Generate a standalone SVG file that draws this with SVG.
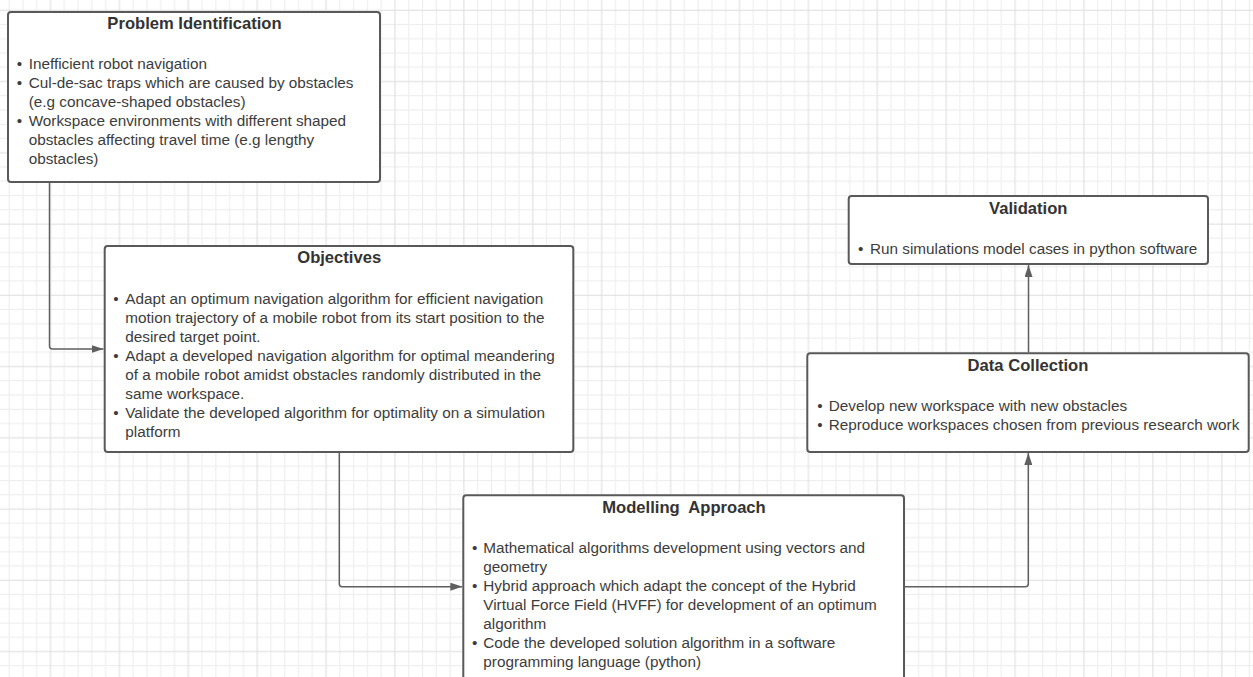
<svg xmlns="http://www.w3.org/2000/svg" width="1253" height="677" viewBox="0 0 1253 677">
  <defs>
    <pattern id="grid" patternUnits="userSpaceOnUse" x="43.61" y="3.125" width="68.9" height="71.25">
      <g stroke="#ececec" stroke-width="1">
        <line x1="20.67" y1="0" x2="20.67" y2="71.25"/>
        <line x1="34.45" y1="0" x2="34.45" y2="71.25"/>
        <line x1="48.23" y1="0" x2="48.23" y2="71.25"/>
        <line x1="62.01" y1="0" x2="62.01" y2="71.25"/>
        <line x1="0" y1="21.375" x2="68.9" y2="21.375"/>
        <line x1="0" y1="35.625" x2="68.9" y2="35.625"/>
        <line x1="0" y1="49.875" x2="68.9" y2="49.875"/>
        <line x1="0" y1="64.125" x2="68.9" y2="64.125"/>
      </g>
      <g stroke="#dcdcdc" stroke-width="1">
        <line x1="6.89" y1="0" x2="6.89" y2="71.25"/>
        <line x1="0" y1="7.125" x2="68.9" y2="7.125"/>
      </g>
    </pattern>
    <marker id="arrow" viewBox="0 0 12 8" refX="12" refY="4" markerWidth="12" markerHeight="8" markerUnits="userSpaceOnUse" orient="auto">
      <path d="M0,0 L12,4 L0,8 Z" fill="#5f5f5f"/>
    </marker>
    <style>
      .box { fill: #ffffff; stroke: #595959; stroke-width: 2; }
      .title { font-family: "Liberation Sans", Arial, sans-serif; font-size: 16.6px; font-weight: bold; fill: #333333; text-anchor: middle; white-space: pre; }
      .body { font-family: "Liberation Sans", Arial, sans-serif; font-size: 15.3px; fill: #3c3c3c; }
      .bul { font-family: "Liberation Sans", Arial, sans-serif; font-size: 15.3px; fill: #3c3c3c; text-anchor: middle; }
      .conn { fill: none; stroke: #5f5f5f; stroke-width: 1.5; marker-end: url(#arrow); }
    </style>
  </defs>

  <rect x="0" y="0" width="1253" height="677" fill="#ffffff"/>
  <rect x="0" y="0" width="1253" height="677" fill="url(#grid)"/>

  <g id="connectors">
    <path class="conn" d="M49.5,183 V346 Q49.5,349 52.5,349 H103.5"/>
    <path class="conn" d="M339.3,453 V583.7 Q339.3,586.7 342.3,586.7 H462.3"/>
    <path class="conn" d="M905,586.7 H1025.3 Q1028.3,586.7 1028.3,583.7 V453"/>
    <path class="conn" d="M1028.5,352.5 V265"/>
  </g>

  <g id="problem-identification">
    <rect class="box" x="8" y="12" width="372" height="170" rx="3"/>
    <text class="title" x="194.5" y="29">Problem Identification</text>
    <text class="bul" x="19.5" y="69.4">•</text>
    <text class="body" x="28.7" y="69.4">Inefficient robot navigation</text>
    <text class="bul" x="19.5" y="88.4">•</text>
    <text class="body" x="28.7" y="88.4">Cul-de-sac traps which are caused by obstacles</text>
    <text class="body" x="28.7" y="107.4">(e.g concave-shaped obstacles)</text>
    <text class="bul" x="19.5" y="126.4">•</text>
    <text class="body" x="28.7" y="126.4">Workspace environments with different shaped</text>
    <text class="body" x="28.7" y="145.4">obstacles affecting travel time (e.g lengthy</text>
    <text class="body" x="28.7" y="164.4">obstacles)</text>
  </g>

  <g id="objectives">
    <rect class="box" x="104.7" y="246" width="468.6" height="206" rx="3"/>
    <text class="title" x="339.2" y="263.3">Objectives</text>
    <text class="bul" x="116" y="304.4">•</text>
    <text class="body" x="125.3" y="304.4">Adapt an optimum navigation algorithm for efficient navigation</text>
    <text class="body" x="125.3" y="323.4">motion trajectory of a mobile robot from its start position to the</text>
    <text class="body" x="125.3" y="342.4">desired target point.</text>
    <text class="bul" x="116" y="361.4">•</text>
    <text class="body" x="125.3" y="361.4">Adapt a developed navigation algorithm for optimal meandering</text>
    <text class="body" x="125.3" y="380.4">of a mobile robot amidst obstacles randomly distributed in the</text>
    <text class="body" x="125.3" y="399.4">same workspace.</text>
    <text class="bul" x="116" y="418.4">•</text>
    <text class="body" x="125.3" y="418.4">Validate the developed algorithm for optimality on a simulation</text>
    <text class="body" x="125.3" y="437.4">platform</text>
  </g>

  <g id="modelling-approach">
    <rect class="box" x="463.3" y="495.3" width="440.7" height="220" rx="3"/>
    <text class="title" x="684" y="512.5" xml:space="preserve">Modelling  Approach</text>
    <text class="bul" x="474.7" y="553.4">•</text>
    <text class="body" x="483.3" y="553.4">Mathematical algorithms development using vectors and</text>
    <text class="body" x="483.3" y="572.4">geometry</text>
    <text class="bul" x="474.7" y="591.4">•</text>
    <text class="body" x="483.3" y="591.4">Hybrid approach which adapt the concept of the Hybrid</text>
    <text class="body" x="483.3" y="610.4">Virtual Force Field (HVFF) for development of an optimum</text>
    <text class="body" x="483.3" y="629.4">algorithm</text>
    <text class="bul" x="474.7" y="648.4">•</text>
    <text class="body" x="483.3" y="648.4">Code the developed solution algorithm in a software</text>
    <text class="body" x="483.3" y="667.4">programming language (python)</text>
  </g>

  <g id="data-collection">
    <rect class="box" x="807.3" y="353.3" width="441.4" height="98.7" rx="3"/>
    <text class="title" x="1028" y="370.6">Data Collection</text>
    <text class="bul" x="820" y="411.4">•</text>
    <text class="body" x="828.7" y="411.4">Develop new workspace with new obstacles</text>
    <text class="bul" x="820" y="430.4">•</text>
    <text class="body" x="828.7" y="430.4">Reproduce workspaces chosen from previous research work</text>
  </g>

  <g id="validation">
    <rect class="box" x="848.7" y="196" width="359.3" height="68" rx="3"/>
    <text class="title" x="1028.3" y="213.8">Validation</text>
    <text class="bul" x="860.7" y="254.4">•</text>
    <text class="body" x="870" y="254.4">Run simulations model cases in python software</text>
  </g>
</svg>
